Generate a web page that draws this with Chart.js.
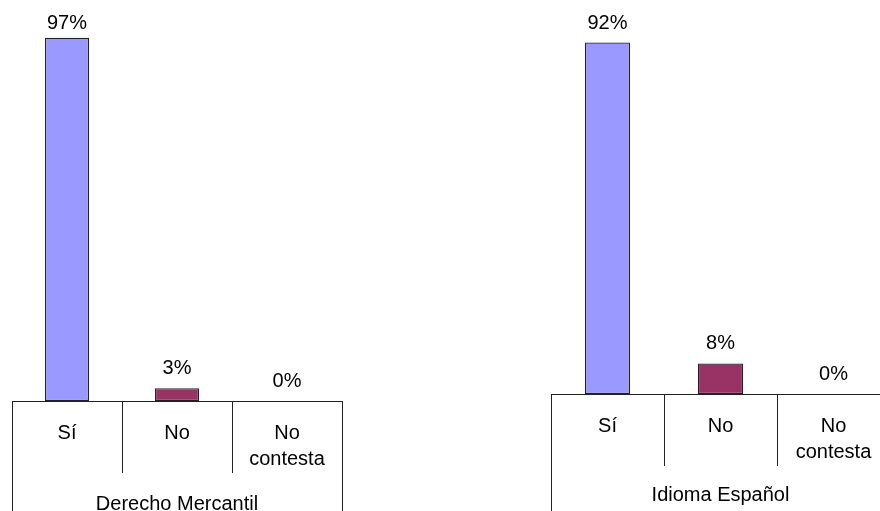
<!DOCTYPE html>
<html>
<head>
<meta charset="utf-8">
<script src="https://cdn.jsdelivr.net/npm/chart.js@4"></script>
<style>
  html, body { margin: 0; padding: 0; background: #fff; overflow: hidden; width: 880px; height: 511px; }
  .panel { position: absolute; top: 0; }
</style>
</head>
<body>
<div class="panel" style="left:0; width:440px; height:540px;"><canvas id="chartLeft"></canvas></div>
<div class="panel" style="left:440px; width:460px; height:540px;"><canvas id="chartRight"></canvas></div>
<script>
// data (bar heights, labels are rounded like the original)
const categories = ['Sí', 'No', ['No', 'contesta']];
const groupLeft = 'Derecho Mercantil';
const valuesLeft = [96.6, 3.4, 0];
const groupRight = 'Idioma Español';
const valuesRight = [92, 8, 0];
const barColors = ['#9999ff', '#993366', '#ffffcc'];

const FONT = "'Liberation Sans', Arial, sans-serif";
const FONT_SIZE = 20;

// percentage labels above the bars + Excel-like category boxes
const excelPlugin = {
    id: 'excelLook',
    afterDraw(chart) {
        const ctx = chart.ctx;
        const xs = chart.scales.x;
        const area = chart.chartArea;
        const n = chart.data.labels.length;

        ctx.save();
        ctx.strokeStyle = '#222';
        ctx.lineWidth = 1;
        for (let i = 0; i <= n; i++) {
            let x;
            if (i === 0) x = xs.left;
            else if (i === n) x = xs.right;
            else x = (xs.getPixelForValue(i - 1) + xs.getPixelForValue(i)) / 2;
            x = Math.round(x) + 0.5;
            const yEnd = (i === 0 || i === n) ? chart.height : area.bottom + 72;
            ctx.beginPath();
            ctx.moveTo(x, area.bottom);
            ctx.lineTo(x, yEnd);
            ctx.stroke();
        }

        // value labels (kept inside the top of the picture, like Excel does)
        ctx.fillStyle = '#000';
        ctx.font = FONT_SIZE + 'px ' + FONT;
        ctx.textAlign = 'center';
        ctx.textBaseline = 'middle';
        const meta = chart.getDatasetMeta(0);
        meta.data.forEach((bar, i) => {
            const v = chart.data.datasets[0].data[i];
            const y = Math.max(bar.y - 20, 23);
            ctx.fillText(Math.round(v) + '%', bar.x, y);
        });
        ctx.restore();
    }
};

function makeChart(canvasId, values, group, pad, axisHeight, titlePad) {
    const ctx = document.getElementById(canvasId).getContext('2d');
    return new Chart(ctx, {
        type: 'bar',
        data: {
            labels: categories,
            datasets: [{
                data: values,
                backgroundColor: barColors,
                borderColor: '#222',
                borderWidth: c => (c.raw > 0 ? 1.2 : 0),
                borderSkipped: false,
                categoryPercentage: 1,
                barPercentage: 0.4
            }]
        },
        options: {
            responsive: true,
            maintainAspectRatio: false,
            animation: false,
            layout: { padding: pad },
            plugins: {
                legend: { display: false },
                tooltip: { enabled: false }
            },
            scales: {
                y: { display: false, min: 0, max: 100 },
                x: {
                    grid: { display: false, drawTicks: false },
                    border: { display: true, color: '#222', width: 1 },
                    ticks: {
                        color: '#000',
                        padding: 19,
                        maxRotation: 0,
                        autoSkip: false,
                        font: { family: FONT, size: FONT_SIZE, lineHeight: 1.3 }
                    },
                    title: {
                        display: true,
                        text: group,
                        color: '#000',
                        padding: { top: titlePad, bottom: titlePad },
                        font: { family: FONT, size: FONT_SIZE, lineHeight: 1.2 }
                    },
                    afterFit: s => { s.height = axisHeight; }
                }
            }
        },
        plugins: [excelPlugin]
    });
}

makeChart('chartLeft', valuesLeft, groupLeft, { left: 12, right: 98, top: 25, bottom: 0 }, 139, 23.5);
makeChart('chartRight', valuesRight, groupRight, { left: 111, right: 10, top: 12, bottom: 0 }, 146, 33);
</script>
</body>
</html>
